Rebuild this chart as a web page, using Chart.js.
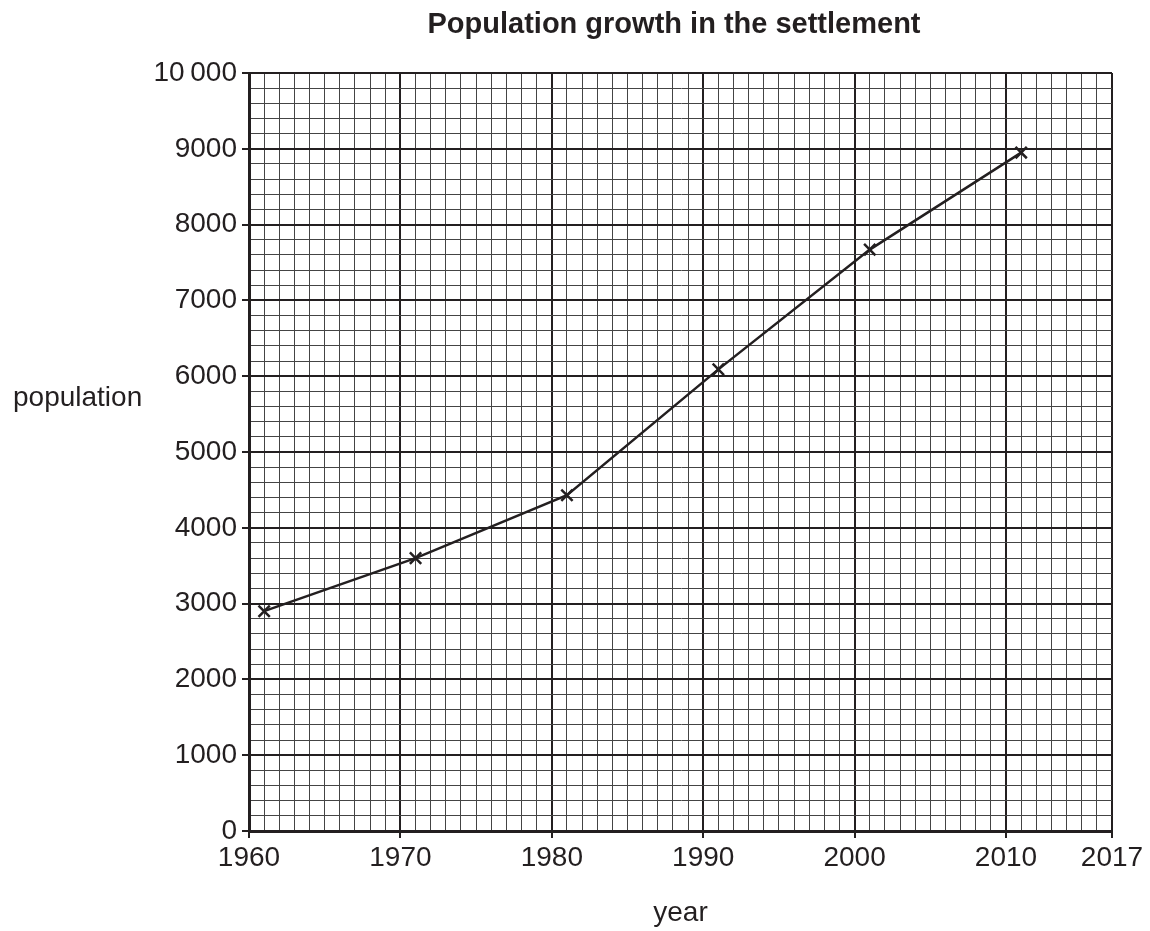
<!DOCTYPE html>
<html>
<head>
<meta charset="utf-8">
<script src="https://cdn.jsdelivr.net/npm/chart.js@4.4.1/dist/chart.umd.min.js"></script>
<style>
  html, body { margin: 0; padding: 0; background: #ffffff; }
  #wrap { width: 1150px; height: 931px; }
</style>
</head>
<body>
<div id="wrap"><canvas id="c" width="1150" height="931"></canvas></div>
<script>
// ---- data ----
const years = [1961, 1971, 1981, 1991, 2001, 2011];
const population = [2900, 3600, 4430, 6090, 7670, 8950];

const xTickValues = [1960, 1970, 1980, 1990, 2000, 2010, 2017];
const xTickLabels = ['1960', '1970', '1980', '1990', '2000', '2010', '2017'];
const yTickValues = [0, 1000, 2000, 3000, 4000, 5000, 6000, 7000, 8000, 9000, 10000];
const yTickLabels = ['0', '1000', '2000', '3000', '4000', '5000', '6000', '7000', '8000', '9000', '10\u2009000'];

const chartTitle = 'Population growth in the settlement';
const xTitle = 'year';
const yTitle = 'population';

// ---- styling ----
const INK = '#231f20';
const FONT = "'Liberation Sans', Arial, Helvetica, sans-serif";
const MINOR = '#444444';

const X_MIN = 1960, X_MAX = 2017, Y_MIN = 0, Y_MAX = 10000;

const textPlugin = {
  id: 'texts',
  afterDraw(chart) {
    const ctx = chart.ctx;
    const area = chart.chartArea;
    ctx.save();
    ctx.fillStyle = INK;
    ctx.font = 'bold 29px ' + FONT;
    ctx.textAlign = 'center';
    ctx.textBaseline = 'middle';
    ctx.fillText(chartTitle, 674, 25);

    ctx.font = '28px ' + FONT;
    ctx.textAlign = 'center';
    ctx.textBaseline = 'alphabetic';
    ctx.fillText(xTitle, (area.left + area.right) / 2, 921);

    ctx.textAlign = 'left';
    ctx.textBaseline = 'middle';
    ctx.fillText(yTitle, 13, 398);
    ctx.restore();
  }
};

const data = {
  datasets: [{
    data: years.map((y, i) => ({ x: y, y: population[i] })),
    borderColor: INK,
    backgroundColor: INK,
    borderWidth: 2.5,
    tension: 0,
    showLine: true,
    pointStyle: 'crossRot',
    pointRadius: 8,
    pointBorderWidth: 2.5,
    pointHoverRadius: 8
  }]
};

const isMajorX = v => xTickValues.includes(v);
const isMajorY = v => yTickValues.includes(v);

new Chart(document.getElementById('c'), {
  type: 'scatter',
  data,
  options: {
    responsive: false,
    animation: false,
    events: [],
    layout: { padding: { top: 73, right: 38, bottom: 0, left: 0 } },
    plugins: {
      legend: { display: false },
      title: { display: false },
      tooltip: { enabled: false }
    },
    scales: {
      x: {
        type: 'linear',
        min: X_MIN,
        max: X_MAX,
        afterBuildTicks(scale) {
          const t = [];
          for (let v = X_MIN; v <= X_MAX; v++) t.push({ value: v });
          scale.ticks = t;
        },
        afterFit(scale) { scale.height = 100; },
        ticks: {
          autoSkip: false,
          maxRotation: 0,
          minRotation: 0,
          padding: 3,
          color: INK,
          font: { family: FONT, size: 28 },
          callback(v) {
            const i = xTickValues.indexOf(v);
            return i >= 0 ? xTickLabels[i] : '';
          }
        },
        grid: {
          color: c => isMajorX(c.tick && c.tick.value) ? INK : MINOR,
          lineWidth: c => isMajorX(c.tick && c.tick.value) ? 2 : 1,
          drawTicks: true,
          tickLength: 7,
          tickColor: c => isMajorX(c.tick && c.tick.value) ? INK : 'rgba(0,0,0,0)',
          tickWidth: 2
        },
        border: { display: true, color: INK, width: 3 }
      },
      y: {
        type: 'linear',
        min: Y_MIN,
        max: Y_MAX,
        afterBuildTicks(scale) {
          const t = [];
          for (let v = Y_MIN; v <= Y_MAX; v += 200) t.push({ value: v });
          scale.ticks = t;
        },
        afterFit(scale) { scale.width = 249; },
        ticks: {
          autoSkip: false,
          padding: 5,
          color: INK,
          font: { family: FONT, size: 28 },
          callback(v) {
            const i = yTickValues.indexOf(v);
            return i >= 0 ? yTickLabels[i] : '';
          }
        },
        grid: {
          color: c => isMajorY(c.tick && c.tick.value) ? INK : MINOR,
          lineWidth: c => isMajorY(c.tick && c.tick.value) ? 2 : 1,
          drawTicks: true,
          tickLength: 7,
          tickColor: c => isMajorY(c.tick && c.tick.value) ? INK : 'rgba(0,0,0,0)',
          tickWidth: 2
        },
        border: { display: true, color: INK, width: 3 }
      }
    }
  },
  plugins: [textPlugin]
});
</script>
</body>
</html>
